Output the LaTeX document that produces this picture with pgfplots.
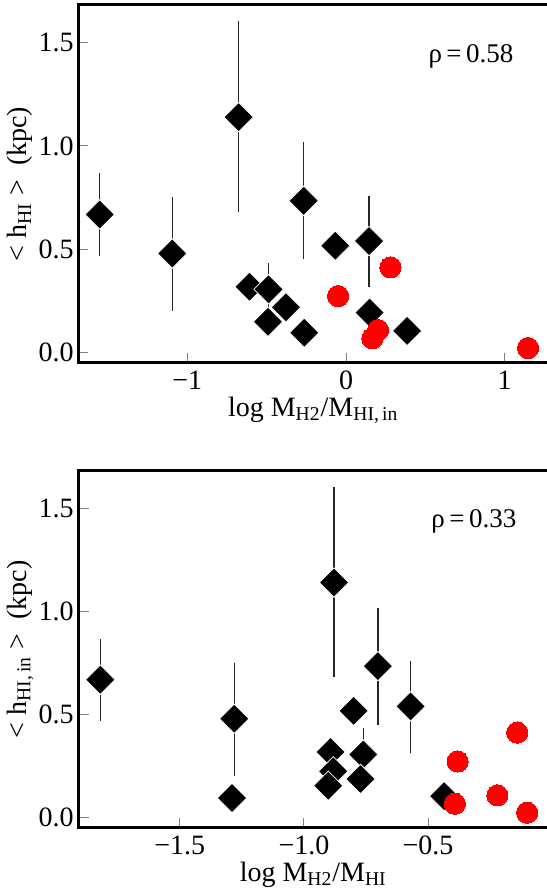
\documentclass[border=0pt]{standalone}
\usepackage{fontspec}
\setmainfont{Liberation Serif}
\usepackage{pgfplots}
\pgfplotsset{compat=1.18}
\pgfplotsset{
  panel/.style={
    scale only axis,
    width=234.75pt,
    anchor=south west,
    ymin=-0.048, ymax=1.682,
    axis line style={line width=1.5pt, black},
    tick pos=left,
    tick align=inside,
    major tick length=5pt,
    every tick/.style={gray, line width=0.5pt},
    ytick={0,0.5,1,1.5},
    yticklabels={0.0,0.5,1.0,1.5},
    tick label style={font=\fontsize{14}{16}\selectfont, inner sep=0.5pt},
    yticklabel style={xshift=-1.75pt},
    xticklabel style={yshift=-3.3pt},
    label style={font=\fontsize{14}{16}\selectfont},
    xlabel style={at={(axis description cs:0.5,-0.15)}, anchor=base, inner sep=0pt},
    ylabel style={at={(axis description cs:-0.1246,0.5)}, anchor=center, rotate=0, inner sep=0pt},
    clip=false,
  },
  dia/.style={only marks, mark=square*, mark size=5.2pt, color=black,
    mark options={rotate=45, fill=black, draw=white, line width=0.4pt},
    error bars/.cd, y dir=both, y explicit, error mark=none,
    error bar style={line width=0.65pt, black!85}},
  redpt/.style={only marks, mark=*, mark size=5.3pt, color=red,
    mark options={fill=red, draw=red, line width=0pt}},
}
\begin{document}
\begin{tikzpicture}
% ---------------- top panel ----------------
\begin{axis}[panel, at={(39.25pt,265.15pt)}, height=178.85pt,
  xmin=-1.686, xmax=1.273,
  xtick={-1,0,1}, xticklabels={−1,0,1},
  xlabel={log M\textsubscript{H2}/M\textsubscript{HI,\,in}},
  ylabel={< h\textsubscript{HI} >\enspace(kpc)},
]
\addplot[dia] coordinates {
  (-1.552,0.669) += (0,0.199) -= (0,0.202)
  (-1.095,0.480) += (0,0.272) -= (0,0.276)
  (-0.677,1.140) += (0,0.464) -= (0,0.460)
  (-0.267,0.735) += (0,0.282) -= (0,0.283)
  (-0.068,0.518)
  (0.145,0.540) += (0,0.218) -= (0,0.224)
  (-0.608,0.319)
  (-0.488,0.307) += (0,0.128) -= (0,0.128)
  (-0.379,0.220)
  (-0.492,0.150)
  (-0.263,0.097)
  (0.149,0.194)
  (0.385,0.106)
};
\addplot[redpt] coordinates {
  (0.280,0.413) (-0.050,0.274) (0.202,0.110) (0.166,0.070) (1.147,0.023)
};
\node[font=\fontsize{13.5}{15}\selectfont] at (axis description cs:0.836,0.857) {ρ\,=\,0.58};
\end{axis}
% ---------------- bottom panel ----------------
\begin{axis}[panel, at={(39.25pt,32.65pt)}, height=178.5pt,
  xmin=-1.908, xmax=-0.017,
  xtick={-1.5,-1,-0.5}, xticklabels={−1.5,−1.0,−0.5},
  xlabel={log M\textsubscript{H2}/M\textsubscript{HI}},
  ylabel={< h\textsubscript{HI,\,in} >\enspace(kpc)},
]
\addplot[dia] coordinates {
  (-1.820,0.669) += (0,0.199) -= (0,0.202)
  (-1.281,0.480) += (0,0.272) -= (0,0.276)
  (-0.879,1.140) += (0,0.464) -= (0,0.460)
  (-0.702,0.735) += (0,0.282) -= (0,0.283)
  (-0.800,0.518)
  (-0.570,0.540) += (0,0.218) -= (0,0.224)
  (-0.893,0.319)
  (-0.761,0.307) += (0,0.128) -= (0,0.128)
  (-0.882,0.225)
  (-0.902,0.155)
  (-1.290,0.096)
  (-0.772,0.188)
  (-0.435,0.105)
};
\addplot[redpt] coordinates {
  (-0.141,0.413) (-0.381,0.273) (-0.221,0.109) (-0.392,0.068) (-0.101,0.025)
};
\node[font=\fontsize{13.5}{15}\selectfont] at (axis description cs:0.842,0.857) {ρ\,=\,0.33};
\end{axis}
\pgfresetboundingbox
\useasboundingbox (0,0) rectangle (273pt,446.5pt);
\end{tikzpicture}
\end{document}
